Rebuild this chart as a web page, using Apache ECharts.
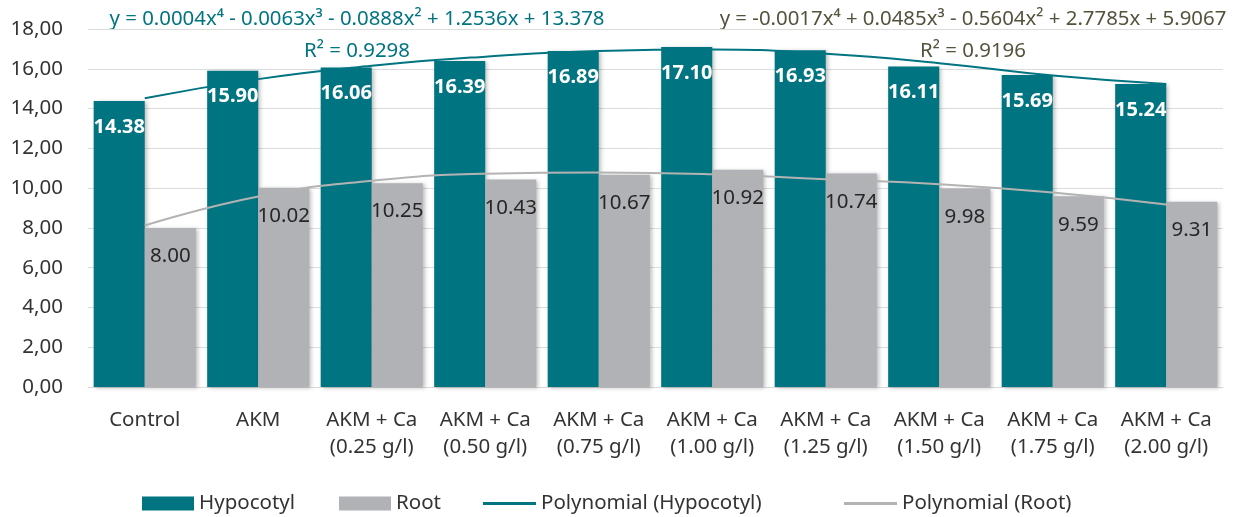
<!DOCTYPE html>
<html>
<head>
<meta charset="utf-8">
<script src="https://cdn.jsdelivr.net/npm/echarts@6/dist/echarts.min.js"></script>
<style>
html,body{margin:0;padding:0;background:#fff;}
#chart{width:1254px;height:517px;}
</style>
</head>
<body>
<div id="chart"></div>
<script>
const categories = ['Control', 'AKM', 'AKM + Ca\n(0.25 g/l)', 'AKM + Ca\n(0.50 g/l)', 'AKM + Ca\n(0.75 g/l)', 'AKM + Ca\n(1.00 g/l)', 'AKM + Ca\n(1.25 g/l)', 'AKM + Ca\n(1.50 g/l)', 'AKM + Ca\n(1.75 g/l)', 'AKM + Ca\n(2.00 g/l)'];
const hypocotyl = [14.38, 15.90, 16.06, 16.39, 16.89, 17.10, 16.93, 16.11, 15.69, 15.24];
const root = [8.00, 10.02, 10.25, 10.43, 10.67, 10.92, 10.74, 9.98, 9.59, 9.31];
const trendHypocotyl = [14.52, 15.48, 16.15, 16.61, 16.90, 16.97, 16.75, 16.28, 15.66, 15.23];
const trendRoot = [8.12, 9.58, 10.37, 10.72, 10.79, 10.70, 10.45, 10.20, 9.78, 9.18];
const yTicks = { min: 0, max: 18, interval: 2 };
const eqHypocotyl = 'y = 0.0004x⁴ - 0.0063x³ - 0.0888x² + 1.2536x + 13.378';
const r2Hypocotyl = 'R² = 0.9298';
const eqRoot = 'y = -0.0017x⁴ + 0.0485x³ - 0.5604x² + 2.7785x + 5.9067';
const r2Root = 'R² = 0.9196';

const TEAL = '#007481';
const GRAY = '#b1b2b6';
const TGRAY = '#b3b3b3';
const FONT = 'Noto Sans';

const chart = echarts.init(document.getElementById('chart'));
const legendText = { fontFamily: FONT, fontSize: 20.5, color: '#333' };
chart.setOption({
  animation: false,
  textStyle: { fontFamily: FONT },
  grid: { left: 88, right: 31, top: 29, bottom: 130, containLabel: false },
  legend: [
    { data: ['Hypocotyl'], left: 142, top: 493, padding: 0, itemWidth: 52, itemHeight: 14, itemGap: 6, textStyle: legendText, icon: 'rect' },
    { data: ['Root'], left: 339, top: 493, padding: 0, itemWidth: 52, itemHeight: 14, itemGap: 6, textStyle: legendText, icon: 'rect' },
    { data: ['Polynomial (Hypocotyl)'], left: 483, top: 493, padding: 0, itemWidth: 53, itemHeight: 3, textStyle: legendText, icon: 'rect' },
    { data: ['Polynomial (Root)'], left: 844, top: 493, padding: 0, itemWidth: 53, itemHeight: 3, textStyle: legendText, icon: 'rect' }
  ],
  xAxis: {
    type: 'category',
    data: categories,
    axisTick: { show: false },
    axisLine: { lineStyle: { color: '#d9d9d9', width: 1 } },
    axisLabel: { fontFamily: FONT, fontSize: 20.5, color: '#333', lineHeight: 27, margin: 20, interval: 0 }
  },
  yAxis: {
    type: 'value',
    min: yTicks.min, max: yTicks.max, interval: yTicks.interval,
    axisLine: { show: false },
    axisTick: { show: false },
    splitLine: { lineStyle: { color: '#dcdcdc', width: 1 } },
    axisLabel: { fontFamily: FONT, fontSize: 20.5, color: '#333', margin: 25,
      formatter: v => v.toFixed(2).replace('.', ',') }
  },
  series: [
    {
      name: 'Hypocotyl', type: 'bar', data: hypocotyl,
      barGap: '0%', barCategoryGap: '10%',
      itemStyle: { color: TEAL, shadowBlur: 4, shadowColor: 'rgba(0,0,0,0.25)', shadowOffsetX: 2, shadowOffsetY: 1 },
      label: { show: true, position: 'insideTop', distance: 16, color: '#fff', fontWeight: 'bold',
        fontFamily: FONT, fontSize: 20, formatter: p => p.value.toFixed(2) },
      z: 2
    },
    {
      name: 'Root', type: 'bar', data: root,
      itemStyle: { color: GRAY, shadowBlur: 4, shadowColor: 'rgba(0,0,0,0.25)', shadowOffsetX: 2, shadowOffsetY: 1 },
      label: { show: true, position: 'insideTop', distance: 18, color: '#262626',
        fontFamily: FONT, fontSize: 20.5, formatter: p => p.value.toFixed(2) },
      z: 2
    },
    {
      name: 'Polynomial (Hypocotyl)', type: 'line', data: trendHypocotyl,
      smooth: 0.5, symbol: 'none', lineStyle: { color: TEAL, width: 2 }, itemStyle: { color: TEAL }, z: 5
    },
    {
      name: 'Polynomial (Root)', type: 'line', data: trendRoot,
      smooth: 0.5, symbol: 'none', lineStyle: { color: TGRAY, width: 2 }, itemStyle: { color: TGRAY }, z: 5
    }
  ],
  graphic: [
    { type: 'text', position: [357, 19], style: { text: eqHypocotyl, fill: TEAL, font: '20.4px "Noto Sans"', textAlign: 'center', textVerticalAlign: 'middle' } },
    { type: 'text', position: [357, 51], style: { text: r2Hypocotyl, fill: TEAL, font: '20.4px "Noto Sans"', textAlign: 'center', textVerticalAlign: 'middle' } },
    { type: 'text', position: [973, 19], style: { text: eqRoot, fill: '#55523d', font: '20.4px "Noto Sans"', textAlign: 'center', textVerticalAlign: 'middle' } },
    { type: 'text', position: [973, 51], style: { text: r2Root, fill: '#55523d', font: '20.4px "Noto Sans"', textAlign: 'center', textVerticalAlign: 'middle' } }
  ]
});
</script>
</body>
</html>
